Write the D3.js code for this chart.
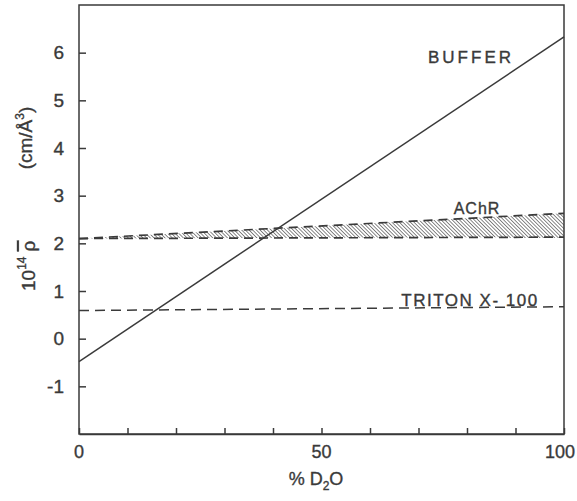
<!DOCTYPE html>
<html>
<head>
<meta charset="utf-8">
<script src="https://cdn.jsdelivr.net/npm/d3@7"></script>
<style>
  body { margin: 0; background: #fff; }
  text { font-family: "Liberation Sans", Arial, sans-serif; fill: #3a3a3a; stroke: #3a3a3a; stroke-width: 0.35px; }
</style>
</head>
<body>
<div id="chart"></div>
<script>
// data
var xTickValues = [0, 10, 20, 30, 40, 50, 60, 70, 80, 90, 100];
var xTickLabels = [0, 50, 100];
var yTickValues = [-1, 0, 1, 2, 3, 4, 5, 6];
var pctD2O = [0, 100];
var buffer = [-0.48, 6.33];
var triton = [0.59, 0.67];
var achrLower = [2.10, 2.13];
var achrUpper = [2.10, 2.63];

var width = 577, height = 501;
var margin = {top: 5, right: 13, bottom: 67, left: 79};
var ink = "#3a3a3a";

var svg = d3.select("#chart")
  .append("svg")
  .attr("width", width)
  .attr("height", height);

var xScale = d3.scaleLinear()
  .domain([0, 100])
  .range([margin.left, width - margin.right]);

var yScale = d3.scaleLinear()
  .domain([-2, 7])
  .range([height - margin.bottom, margin.top]);

// hatch pattern for the AChR band
var defs = svg.append("defs");
defs.append("pattern")
  .attr("id", "hatch")
  .attr("patternUnits", "userSpaceOnUse")
  .attr("width", 2.6)
  .attr("height", 2.6)
  .attr("patternTransform", "rotate(-45)")
  .append("line")
  .attr("x1", 0).attr("y1", 0)
  .attr("x2", 0).attr("y2", 2.6)
  .style("stroke", "#444")
  .style("stroke-width", 1.4);

var pts = function(ys) {
  return pctD2O.map(function(x, i) { return [x, ys[i]]; });
};

var line = d3.line()
  .x(function(d) { return xScale(d[0]); })
  .y(function(d) { return yScale(d[1]); });

var area = d3.area()
  .x(function(d, i) { return xScale(pctD2O[i]); })
  .y0(function(d, i) { return yScale(achrLower[i]); })
  .y1(function(d, i) { return yScale(achrUpper[i]); });

// AChR band
svg.append("path")
  .attr("d", area(pctD2O))
  .style("fill", "url(#hatch)")
  .style("opacity", 0.9);

[achrLower, achrUpper].forEach(function(s) {
  svg.append("path")
    .attr("d", line(pts(s)))
    .style("fill", "none")
    .style("stroke", ink)
    .style("stroke-width", 1.7)
    .style("stroke-dasharray", "9,6");
});

// Triton X-100
svg.append("path")
  .attr("d", line(pts(triton)))
  .style("fill", "none")
  .style("stroke", ink)
  .style("stroke-width", 1.5)
  .style("stroke-dasharray", "10,6");

// buffer
svg.append("path")
  .attr("d", line(pts(buffer)))
  .style("fill", "none")
  .style("stroke", ink)
  .style("stroke-width", 1.5);

// axes
var xAxis = d3.axisBottom(xScale)
  .tickValues(xTickValues)
  .tickSizeInner(-6)
  .tickSizeOuter(0)
  .tickFormat("");

svg.append("g")
  .attr("transform", `translate(0,${height - margin.bottom})`)
  .attr("class", "x-axis")
  .call(xAxis)
  .call(function(g) { g.selectAll("line, path").style("stroke", ink).style("stroke-width", 1.5); });

svg.append("g")
  .selectAll("text")
  .data(xTickLabels)
  .enter()
  .append("text")
  .attr("x", function(d) { return xScale(d) + (d === 100 ? -4 : 0); })
  .attr("y", height - margin.bottom + 24)
  .attr("text-anchor", "middle")
  .style("font-size", "18px")
  .text(function(d) { return d; });

var yAxis = d3.axisLeft(yScale)
  .tickValues(yTickValues)
  .tickSizeInner(-7)
  .tickSizeOuter(0)
  .tickPadding(15)
  .tickFormat(function(d) { return d; });

svg.append("g")
  .attr("transform", `translate(${margin.left},0)`)
  .attr("class", "y-axis")
  .call(yAxis)
  .call(function(g) {
    g.select(".domain").remove();
    g.selectAll("line").style("stroke", ink).style("stroke-width", 1.5);
    g.selectAll("text")
      .style("font-size", "19px")
      .style("font-family", "'Liberation Sans', Arial, sans-serif")
      .style("fill", ink);
  });

// frame
svg.append("rect")
  .attr("x", margin.left)
  .attr("y", margin.top)
  .attr("width", width - margin.left - margin.right)
  .attr("height", height - margin.top - margin.bottom)
  .style("fill", "none")
  .style("stroke", ink)
  .style("stroke-width", 1.5);

// labels
svg.append("text")
  .attr("x", 471)
  .attr("y", 63)
  .attr("text-anchor", "middle")
  .style("font-size", "17px")
  .style("letter-spacing", "3px")
  .text("BUFFER");

svg.append("text")
  .attr("x", 477)
  .attr("y", 214)
  .attr("text-anchor", "middle")
  .style("font-size", "16px")
  .style("letter-spacing", "1px")
  .text("AChR");

svg.append("text")
  .attr("x", 470)
  .attr("y", 306)
  .attr("text-anchor", "middle")
  .style("font-size", "17px")
  .style("letter-spacing", "1.5px")
  .text("TRITON X- 100");

var xLabel = svg.append("text")
  .attr("x", 316)
  .attr("y", 485)
  .attr("text-anchor", "middle")
  .style("font-size", "18px");
xLabel.append("tspan").text("% D");
xLabel.append("tspan").attr("dy", 5).style("font-size", "12px").text("2");
xLabel.append("tspan").attr("dy", -5).text("O");

var yLabel = svg.append("text")
  .attr("transform", "translate(35,291) rotate(-90)")
  .attr("text-anchor", "start")
  .style("font-size", "19px");
yLabel.append("tspan").text("10");
yLabel.append("tspan").attr("dy", -9).style("font-size", "12px").text("14");
yLabel.append("tspan").attr("dy", 9).attr("dx", 5)
  .style("text-decoration", "overline")
  .text("ρ");

var yUnit = svg.append("text")
  .attr("transform", "translate(32,138) rotate(-90)")
  .attr("text-anchor", "middle")
  .style("font-size", "19px");
yUnit.append("tspan").text("(cm/Å");
yUnit.append("tspan").attr("dy", -8).style("font-size", "12px").text("3");
yUnit.append("tspan").attr("dy", 8).text(")");
</script>
</body>
</html>
